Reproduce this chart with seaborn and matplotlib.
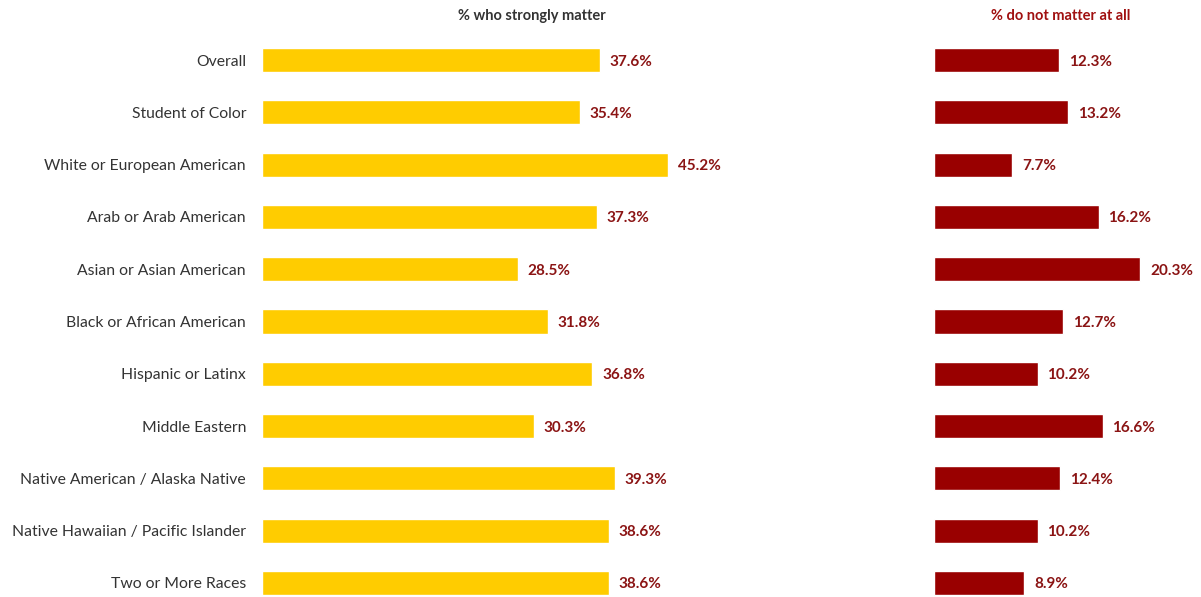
import matplotlib
matplotlib.use("Agg")
import matplotlib.pyplot as plt
import seaborn as sns
import pandas as pd

groups = [
    "Overall",
    "Student of Color",
    "White or European American",
    "Arab or Arab American",
    "Asian or Asian American",
    "Black or African American",
    "Hispanic or Latinx",
    "Middle Eastern",
    "Native American / Alaska Native",
    "Native Hawaiian / Pacific Islander",
    "Two or More Races",
]
strongly_matter = [37.6, 35.4, 45.2, 37.3, 28.5, 31.8, 36.8, 30.3, 39.3, 38.6, 38.6]
not_matter = [12.3, 13.2, 7.7, 16.2, 20.3, 12.7, 10.2, 16.6, 12.4, 10.2, 8.9]

df = pd.DataFrame({"group": groups, "strong": strongly_matter, "none": not_matter})

sns.set_theme(style="white")
plt.rcParams["font.family"] = ["Lato", "DejaVu Sans"]

W, H = 1201, 597
fig = plt.figure(figsize=(W / 100, H / 100), dpi=100)

YELLOW = "#FFCC00"
RED = "#990000"
LABEL_RED = "#8B1414"

def px_axes(left, top, right, bottom):
    return fig.add_axes([left / W, 1 - bottom / H, (right - left) / W, (bottom - top) / H])

ax1 = px_axes(262, 34, 711, 597)
ax2 = px_axes(934, 34, 1188, 597)

sns.barplot(data=df, x="strong", y="group", orient="h", color=YELLOW,
            width=0.46, saturation=1, ax=ax1)
sns.barplot(data=df, x="none", y="group", orient="h", color=RED,
            width=0.46, saturation=1, ax=ax2)

ax1.set_xlim(0, 50)
ax2.set_xlim(0, 25)
for ax in (ax1, ax2):
    ax.set_ylim(10.27, -0.5)
    ax.set_xlabel("")
    ax.set_ylabel("")
    ax.set_xticks([])
    for s in ax.spines.values():
        s.set_visible(False)

ax1.tick_params(axis="y", length=0, pad=11.5, labelsize=11.35, labelcolor="#333333")
ax2.set_yticks([])

for ax, vals in ((ax1, strongly_matter), (ax2, not_matter)):
    for i, v in enumerate(vals):
        ax.annotate(f"{v:.1f}%", xy=(v, i), xytext=(7, 0), textcoords="offset points",
                    ha="left", va="center_baseline", fontsize=11, fontweight="bold",
                    color=LABEL_RED)

fig.text(532 / W, 1 - 16 / H, "% who strongly matter", ha="center", va="center",
         fontsize=10.5, fontweight="bold", color="#333333")
fig.text(1061 / W, 1 - 16 / H, "% do not matter at all", ha="center", va="center",
         fontsize=10.5, fontweight="bold", color="#A01010")

fig.savefig("out.png", dpi=100)
